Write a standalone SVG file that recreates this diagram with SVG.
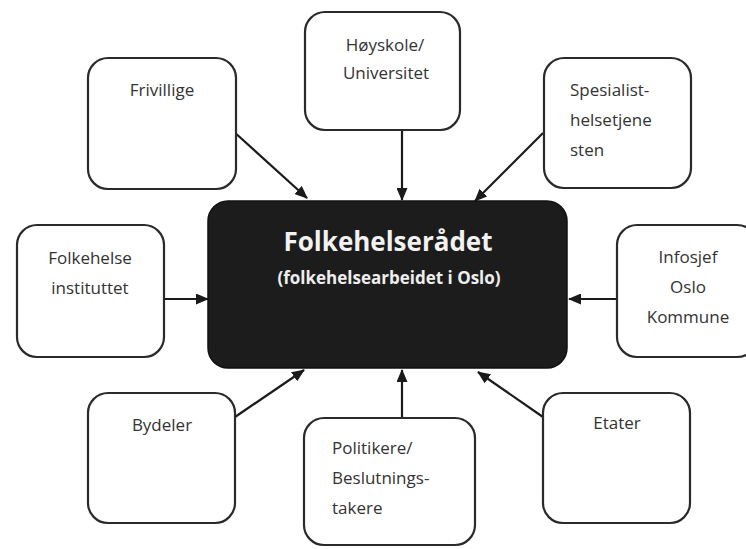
<svg xmlns="http://www.w3.org/2000/svg" width="746" height="549" viewBox="0 0 746 549">
<style>
.box{fill:#fff;stroke:#2a2a2a;stroke-width:2.2}
.t{font-family:"Open Sans","Liberation Sans",sans-serif;font-size:17px;fill:#333}
.c{text-anchor:middle}
.conn{stroke:#1a1a1a;stroke-width:2.2;fill:none;marker-end:url(#ah)}
</style>
<defs>
<marker id="ah" viewBox="0 0 13 11" refX="12" refY="5.5" markerWidth="13" markerHeight="11" markerUnits="userSpaceOnUse" orient="auto">
<path d="M0,0 L13,5.5 L0,11 Z" fill="#1a1a1a"/>
</marker>
</defs>
<rect width="746" height="549" fill="#fff"/>
<g id="connectors">
<line class="conn" x1="233" y1="131" x2="307" y2="198"/>
<line class="conn" x1="402" y1="130" x2="402" y2="200"/>
<line class="conn" x1="543" y1="133" x2="475" y2="201"/>
<line class="conn" x1="164" y1="299" x2="208" y2="299"/>
<line class="conn" x1="617" y1="299" x2="569" y2="299"/>
<line class="conn" x1="235" y1="417" x2="304" y2="370"/>
<line class="conn" x1="402" y1="418" x2="402" y2="370"/>
<line class="conn" x1="543" y1="417" x2="478" y2="372"/>
</g>
<g id="center">
<rect x="208" y="201" width="359" height="167" rx="20" fill="#1c1c1c" stroke="#111" stroke-width="1.5"/>
<text x="388" y="251" text-anchor="middle" font-family="'Open Sans','Liberation Sans',sans-serif" font-weight="bold" font-size="26" fill="#f2f2f2">Folkehelserådet</text>
<text x="389" y="284" text-anchor="middle" font-family="'Open Sans','Liberation Sans',sans-serif" font-weight="bold" font-size="17" fill="#eee">(folkehelsearbeidet i Oslo)</text>
</g>
<g id="frivillige">
<rect class="box" x="88" y="58" width="148" height="131" rx="20"/>
<text class="t c" x="162" y="96">Frivillige</text>
</g>
<g id="hoyskole">
<rect class="box" x="305" y="12" width="155" height="118" rx="20"/>
<text class="t c" x="385" y="51">Høyskole/</text>
<text class="t c" x="386" y="79">Universitet</text>
</g>
<g id="spesialist">
<rect class="box" x="544" y="58" width="147" height="130" rx="20"/>
<text class="t" x="570" y="96">Spesialist-</text>
<text class="t" x="570" y="126">helsetjene</text>
<text class="t" x="570" y="156">sten</text>
</g>
<g id="folkehelseinstituttet">
<rect class="box" x="17" y="225" width="147" height="132" rx="20"/>
<text class="t c" x="90" y="264">Folkehelse</text>
<text class="t c" x="90" y="294">instituttet</text>
</g>
<g id="infosjef">
<rect class="box" x="617" y="225" width="140" height="132" rx="20"/>
<text class="t c" x="688" y="263">Infosjef</text>
<text class="t c" x="688" y="293">Oslo</text>
<text class="t c" x="688" y="323">Kommune</text>
</g>
<g id="bydeler">
<rect class="box" x="88" y="393" width="147" height="130" rx="20"/>
<text class="t c" x="162" y="431">Bydeler</text>
</g>
<g id="politikere">
<rect class="box" x="304" y="418" width="171" height="127" rx="20"/>
<text class="t" x="332" y="454">Politikere/</text>
<text class="t" x="332" y="484">Beslutnings-</text>
<text class="t" x="332" y="514">takere</text>
</g>
<g id="etater">
<rect class="box" x="543" y="393" width="147" height="130" rx="20"/>
<text class="t c" x="617" y="429">Etater</text>
</g>
</svg>
